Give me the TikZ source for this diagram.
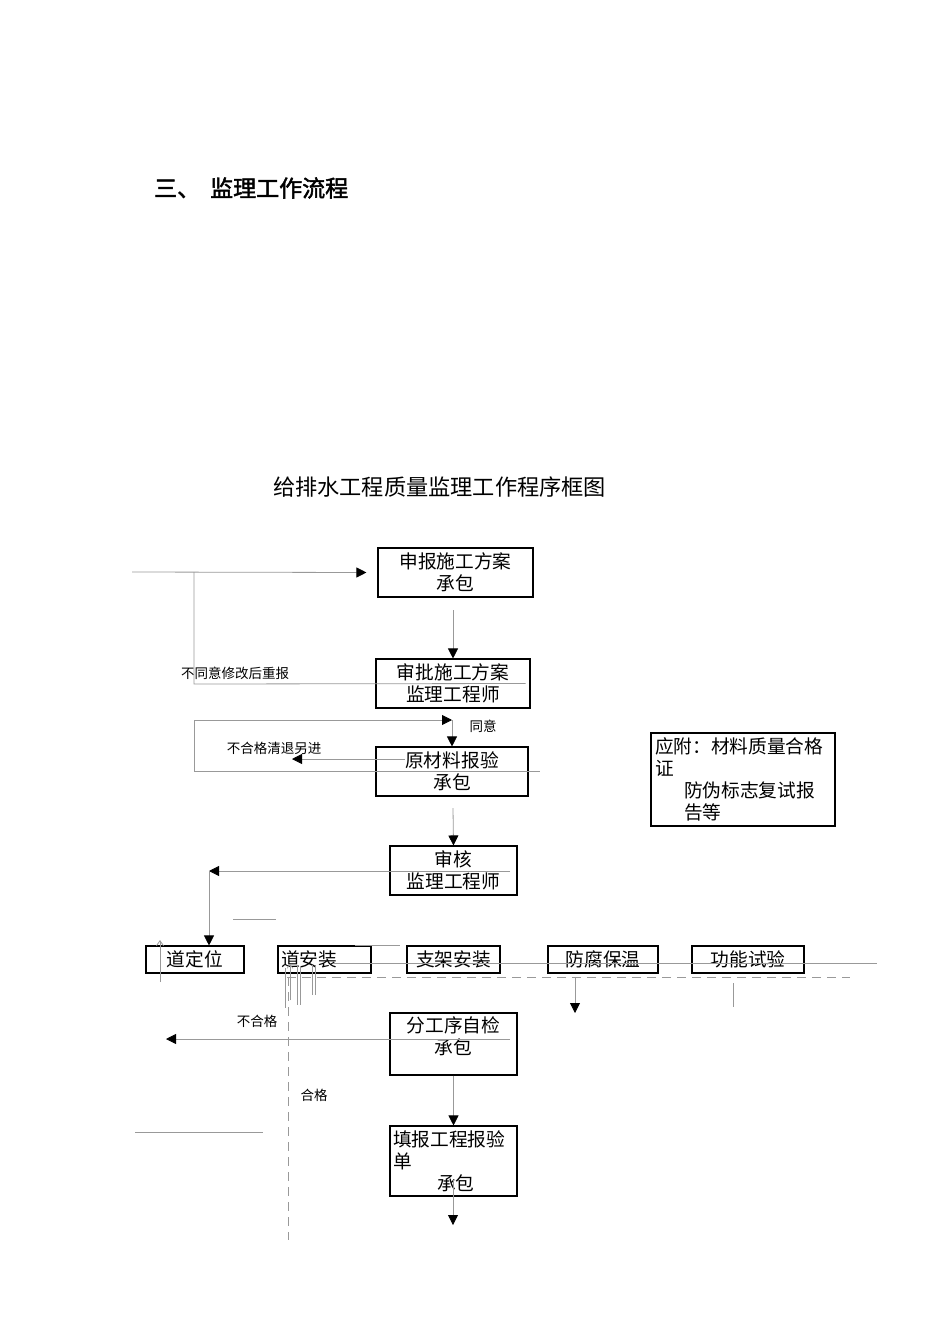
\documentclass[tikz,border=0pt]{standalone}
\usepackage{fontspec}
\setmainfont{Noto Sans CJK SC}[AutoFakeBold=2]
\usepackage{tikz}
\usetikzlibrary{arrows.meta}
\tikzset{
  blk/.style={rectangle, draw=black, line width=1.1pt, align=center, inner sep=1pt,
              font=\fontsize{18.7}{22}\selectfont},
  gline/.style={line width=0.8pt, draw=black!40},
  flow/.style={gline, -{Triangle[length=10pt, width=10pt, color=black]}},
  dsh/.style={gline, dash pattern=on 9pt off 6pt},
  lbl/.style={font=\fontsize{13.5}{16}\selectfont, inner sep=0pt},
}
\begin{document}
\begin{tikzpicture}[x=1pt, y=-1pt, s/.style={minimum width=155, minimum height=49},
                    r/.style={minimum height=27}]
  \useasboundingbox (0,0) rectangle (950,1344);
  \node[font=\fontsize{23}{26}\selectfont\bfseries, anchor=west, inner sep=0pt] (ttl) at (154,188) {三、\hspace{10pt}监理工作流程};
  \node[font=\fontsize{22.2}{26}\selectfont, inner sep=0pt] (ttl2) at (439.5,487) {给排水工程质量监理工作程序框图};

  \node[blk, s] (sbfa) at (455.5,572.5) {申报施工方案\\承包};
  \node[blk, s, minimum width=154] (spfa) at (453,683.5) {审批施工方案\\监理工程师};
  \node[blk, s, minimum width=152] (ycl) at (452,771.5) {原材料报验\\承包};
  \node[blk, s, minimum width=127] (sh) at (453.5,870.5) {审核\\监理工程师};
  \node[blk, minimum height=93, text width=176, inner xsep=4pt, align=left] (fj) at (743,779.5)
    {应附：材料质量合格\\证\\\hspace*{29pt}防伪标志复试报\\\hspace*{29pt}告等};

  \node[blk, r, minimum width=98] (dwz) at (195,959.5) {道定位};
  \node[blk, r, text width=87, align=left, inner xsep=3pt] (daz) at (324.5,959.5) {道安装};
  \node[blk, r, minimum width=93] (zjaz) at (453.5,959.5) {支架安装};
  \node[blk, r, minimum width=110] (ffbw) at (603,959.5) {防腐保温};
  \node[blk, r, minimum width=112] (gnsy) at (748,959.5) {功能试验};

  \node[blk, minimum width=127, minimum height=62] (zj) at (453.5,1044) {};
  \node[blk, draw=none, anchor=north, yshift=-3pt] (zjt) at (zj.north) {分工序自检\\承包};
  \node[blk, minimum height=70, text width=121, inner xsep=3pt, align=left] (tbd) at (453.5,1161)
    {填报工程报验\\单\\\hspace*{44pt}承包};

  \node[lbl] (lbty) at (235,673) {不同意修改后重报};
  \node[lbl] (lty) at (483,726) {同意};
  \node[lbl] (lbh1) at (274,748) {不合格清退另进};
  \node[lbl] (lbh2) at (257,1021) {不合格};
  \node[lbl] (lhg) at (314,1095) {合格};

  \coordinate (in0) at (132,572); \coordinate (bk0) at (194,572); \coordinate (bk1) at (194,684);
  \coordinate (a1) at (453,610); \coordinate (a2) at (453,808);
  \coordinate (ag0) at (194,720); \coordinate (ag1) at (452,720);
  \coordinate (ag2) at (194,771); \coordinate (ag3) at (540,771);
  \coordinate (tj0) at (405,759); \coordinate (tj1) at (292,759);
  \coordinate (sh0) at (510,871); \coordinate (sh1) at (209,871);
  \coordinate (ff0) at (575,977); \coordinate (ff1) at (575,1013);
  \coordinate (bh0) at (510,1039); \coordinate (bh1) at (166,1039);
  \coordinate (ed0) at (453,1180); \coordinate (ed1) at (453,1225);

  \draw[flow] (in0) -- ([xshift=-11pt]sbfa.west);
  \draw[gline] ([xshift=-5pt]spfa.east) -- (bk1) -- (bk0);
  \draw[flow] (a1) -- (spfa.north);
  \draw[flow] (ag0) -- (ag1); \draw[flow] (ag1) -- (ycl.north);
  \draw[gline] (ag0) -- (ag2) -- (ag3);
  \draw[flow] (tj0) -- (tj1);
  \draw[flow] (a2) -- (sh.north);
  \draw[flow] (sh0) -- (sh1); \draw[flow] (sh1) -- (dwz.north -| sh1);
  \draw[gline] (233,919) -- (276,919);
  \draw[gline] (333,963) -- (877,963);
  \draw[gline] (355,945) -- (400,945);
  \draw[dsh] (287,977) -- (850,977);
  \draw[flow] (ff0) -- (ff1);
  \draw[gline] (733,983) -- (733,1007);
  \draw[gline, -{Straight Barb[length=5pt, width=7pt]}] (160,982) -- (160,940);
  \draw[gline, line width=0.5pt] (285,968) -- (285,1008) (297,966) -- (297,1005) (300,966) -- (300,1005)
    (312,965) -- (312,995) (315,965) -- (315,995);
  \draw[gline, line width=0.5pt, -{Straight Barb[length=4pt, width=6pt]}] (290,1000) -- (290,964);
  \draw[dsh] (288,977) -- (288,1240);
  \draw[flow] (bh0) -- (bh1);
  \draw[gline] (135,1132) -- (263,1132);
  \draw[flow] (zj.south) -- (tbd.north);
  \draw[flow] (ed0) -- (ed1);
\end{tikzpicture}
\end{document}
